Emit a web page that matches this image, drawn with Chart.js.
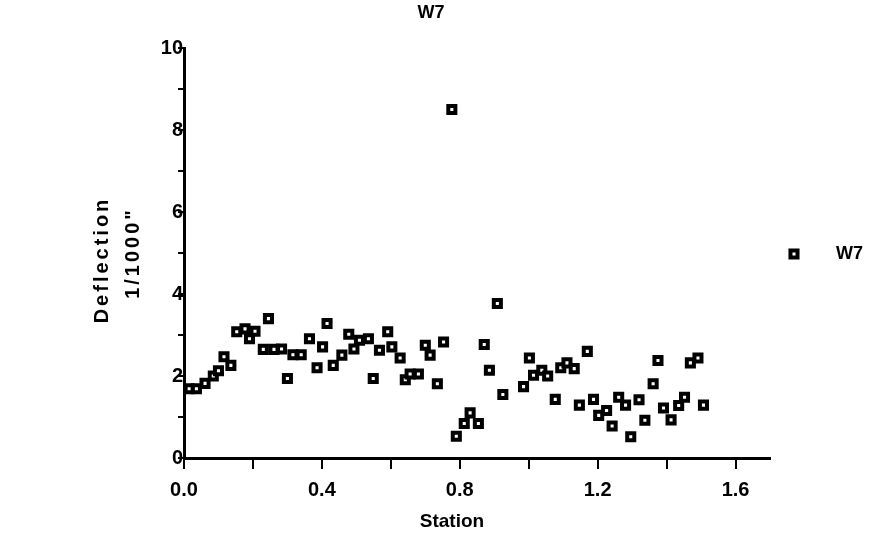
<!DOCTYPE html>
<html lang="en">
<head>
    <meta charset="UTF-8">
    <title>W7 Deflection</title>
    <script src="https://cdn.jsdelivr.net/npm/chart.js@4"></script>
    <style>
        html, body { margin: 0; padding: 0; background: #fff; }
    </style>
</head>
<body>
    <canvas id="deflectionChart" width="889" height="541"></canvas>
    <script>
        // W7 readings: station vs deflection (1/1000")
        const stations = [
            0.015, 0.036, 0.061, 0.085, 0.100, 0.116, 0.136, 0.153, 0.177, 0.190,
            0.206, 0.230, 0.245, 0.261, 0.283, 0.300, 0.316, 0.340, 0.364, 0.386,
            0.402, 0.415, 0.433, 0.458, 0.478, 0.493, 0.509, 0.535, 0.549, 0.567,
            0.591, 0.603, 0.627, 0.642, 0.656, 0.680, 0.700, 0.714, 0.735, 0.753,
            0.777, 0.790, 0.813, 0.830, 0.854, 0.871, 0.886, 0.909, 0.925, 0.985,
            1.002, 1.014, 1.038, 1.055, 1.077, 1.093, 1.111, 1.132, 1.147, 1.170,
            1.188, 1.203, 1.226, 1.242, 1.261, 1.281, 1.296, 1.320, 1.337, 1.361,
            1.375, 1.391, 1.413, 1.435, 1.452, 1.469, 1.491, 1.507
        ];
        const deflections = [
            1.69, 1.69, 1.82, 2.00, 2.13, 2.47, 2.26, 3.08, 3.15, 2.91,
            3.09, 2.65, 3.40, 2.65, 2.66, 1.94, 2.52, 2.52, 2.91, 2.20,
            2.71, 3.28, 2.26, 2.51, 3.02, 2.66, 2.87, 2.91, 1.94, 2.63,
            3.08, 2.71, 2.44, 1.91, 2.05, 2.05, 2.75, 2.51, 1.81, 2.83,
            8.50, 0.53, 0.84, 1.10, 0.84, 2.77, 2.14, 3.77, 1.55, 1.74,
            2.44, 2.02, 2.14, 2.00, 1.43, 2.20, 2.32, 2.18, 1.29, 2.60,
            1.43, 1.04, 1.16, 0.78, 1.48, 1.29, 0.52, 1.42, 0.92, 1.81,
            2.38, 1.22, 0.93, 1.28, 1.48, 2.32, 2.44, 1.29
        ];
        const xLabelTicks = [0, 0.4, 0.8, 1.2, 1.6];
        const yLabelTicks = [0, 2, 4, 6, 8, 10];
        const seriesName = 'W7';
        const xTitle = 'Station';
        const yTitle = ['Deflection', '1/1000"'];

        const FONT = '"Liberation Sans", Arial, Helvetica, sans-serif';

        // titles + legend drawn by hand so they sit where the old plot had them
        const chartText = {
            id: 'chartText',
            afterDraw(chart) {
                const { ctx, chartArea } = chart;
                ctx.save();
                ctx.fillStyle = '#000';
                ctx.textBaseline = 'middle';
                ctx.font = 'bold 18px ' + FONT;

                ctx.textAlign = 'center';
                ctx.fillText(seriesName, chartArea.left + 247, chartArea.top - 35);
                ctx.font = 'bold 19px ' + FONT;
                ctx.fillText(xTitle, chartArea.left + 268, chartArea.bottom + 64);

                // rotated y title, two lines
                ctx.font = 'bold 20px ' + FONT;
                ctx.letterSpacing = '3px';
                ctx.save();
                ctx.translate(chartArea.left - 82, chartArea.top + 212);
                ctx.rotate(-Math.PI / 2);
                ctx.fillText(yTitle[0], 0, 0);
                ctx.restore();
                ctx.save();
                ctx.translate(chartArea.left - 51, chartArea.top + 205);
                ctx.rotate(-Math.PI / 2);
                ctx.fillText(yTitle[1], 0, 0);
                ctx.restore();
                ctx.letterSpacing = '0px';

                // legend
                const ds = chart.data.datasets[0];
                const lx = chartArea.right + 24;
                const ly = chartArea.top + 206;
                ctx.fillStyle = ds.pointBackgroundColor;
                ctx.strokeStyle = ds.pointBorderColor;
                ctx.lineWidth = ds.pointBorderWidth;
                Chart.helpers.drawPoint(ctx, {
                    pointStyle: ds.pointStyle,
                    radius: ds.pointRadius,
                    borderWidth: ds.pointBorderWidth
                }, lx, ly);
                ctx.fillStyle = '#000';
                ctx.textAlign = 'left';
                ctx.font = 'bold 18px ' + FONT;
                ctx.fillText(ds.label, lx + 42, ly);
                ctx.restore();
            }
        };

        const ctx = document.getElementById('deflectionChart').getContext('2d');
        new Chart(ctx, {
            type: 'scatter',
            data: {
                datasets: [{
                    label: seriesName,
                    data: stations.map((s, i) => ({ x: s, y: deflections[i] })),
                    showLine: false,
                    pointStyle: 'rect',
                    pointRadius: 5,
                    pointHoverRadius: 5,
                    pointBackgroundColor: '#fff',
                    pointBorderColor: '#000',
                    pointBorderWidth: 4
                }]
            },
            options: {
                responsive: false,
                animation: false,
                layout: { padding: { top: 48, right: 119, bottom: 0, left: 0 } },
                plugins: {
                    legend: { display: false },
                    tooltip: { enabled: false },
                    title: { display: false }
                },
                scales: {
                    x: {
                        type: 'linear',
                        min: 0,
                        max: 1.7,
                        border: { display: true, color: '#000', width: 3 },
                        grid: { drawOnChartArea: false, drawTicks: true, tickLength: 11, color: '#000', lineWidth: 2 },
                        ticks: {
                            stepSize: 0.2,
                            includeBounds: false,
                            autoSkip: false,
                            maxRotation: 0,
                            padding: 9,
                            color: '#000',
                            font: { family: FONT, size: 20, weight: 'bold' },
                            callback: v => xLabelTicks.some(t => Math.abs(t - v) < 1e-6) ? v.toFixed(1) : ''
                        },
                        afterFit: scale => { scale.height = 83; }
                    },
                    y: {
                        min: 0,
                        max: 10,
                        border: { display: true, color: '#000', width: 3 },
                        grid: { drawOnChartArea: false, drawTicks: true, tickLength: 6, color: '#000', lineWidth: 2 },
                        ticks: {
                            stepSize: 1,
                            padding: -5,
                            color: '#000',
                            font: { family: FONT, size: 20, weight: 'bold' },
                            callback: v => yLabelTicks.includes(v) ? String(v) : ''
                        },
                        afterFit: scale => { scale.width = 184; }
                    }
                }
            },
            plugins: [chartText]
        });
    </script>
</body>
</html>
